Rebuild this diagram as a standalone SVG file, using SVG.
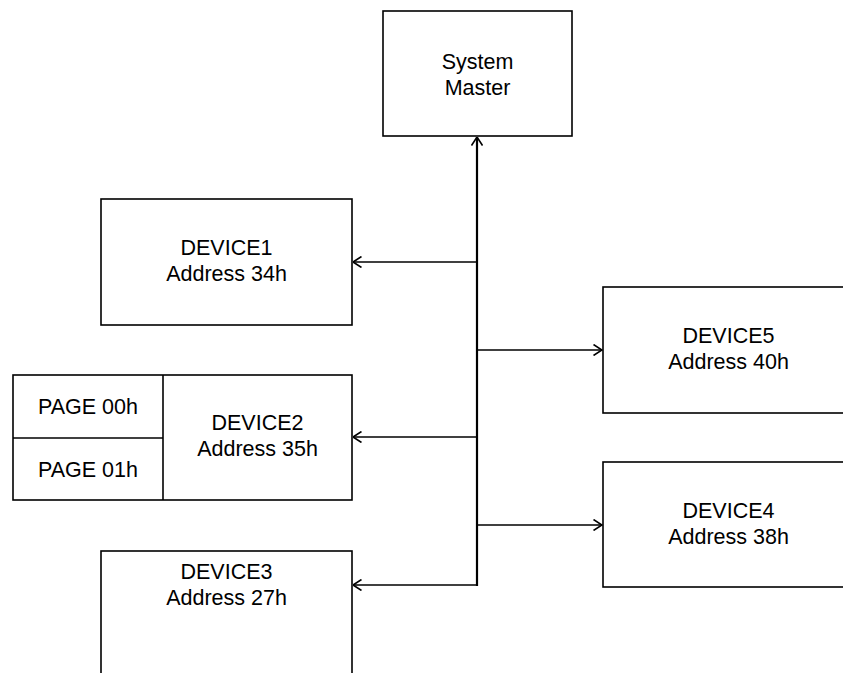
<svg xmlns="http://www.w3.org/2000/svg" width="843" height="673" viewBox="0 0 843 673">
<defs>
<style>
.box{fill:#fff;stroke:#000;stroke-width:1.6}
.t{font-family:"Liberation Sans",Arial,sans-serif;font-size:21.5px;fill:#000;text-anchor:middle}
.ln{fill:none;stroke:#000;stroke-width:1.6}
.trunk{fill:none;stroke:#000;stroke-width:2.2}
</style>
<marker id="arr" viewBox="0 0 10 12" refX="9.5" refY="6" markerWidth="10" markerHeight="12" markerUnits="userSpaceOnUse" orient="auto">
<path d="M1,0.5 L9.5,6 L1,11.5" fill="none" stroke="#000" stroke-width="1.6"/>
</marker>
</defs>
<rect width="843" height="673" fill="#fff"/>
<g id="connectors">
<line class="trunk" x1="477" y1="586" x2="477" y2="137" marker-end="url(#arr)"/>
<line class="ln" x1="477" y1="262" x2="353" y2="262" marker-end="url(#arr)"/>
<line class="ln" x1="477" y1="437" x2="353" y2="437" marker-end="url(#arr)"/>
<line class="ln" x1="478" y1="585" x2="353" y2="585" marker-end="url(#arr)"/>
<line class="ln" x1="477" y1="350" x2="602" y2="350" marker-end="url(#arr)"/>
<line class="ln" x1="477" y1="525" x2="602" y2="525" marker-end="url(#arr)"/>
</g>
<g id="master">
<rect class="box" x="383" y="11" width="189" height="125"/>
<text class="t" x="477.5" y="69">System</text>
<text class="t" x="477.5" y="95">Master</text>
</g>
<g id="device1">
<rect class="box" x="101" y="199" width="251" height="126"/>
<text class="t" x="226.5" y="255">DEVICE1</text>
<text class="t" x="226.5" y="281">Address 34h</text>
</g>
<g id="device2">
<rect class="box" x="13" y="375" width="339" height="125"/>
<line class="ln" x1="163" y1="375" x2="163" y2="500"/>
<line class="ln" x1="13" y1="438" x2="163" y2="438"/>
<text class="t" x="88" y="414">PAGE 00h</text>
<text class="t" x="88" y="477">PAGE 01h</text>
<text class="t" x="257.5" y="430">DEVICE2</text>
<text class="t" x="257.5" y="456">Address 35h</text>
</g>
<g id="device3">
<rect class="box" x="101" y="551" width="251" height="126"/>
<text class="t" x="226.5" y="579">DEVICE3</text>
<text class="t" x="226.5" y="605">Address 27h</text>
</g>
<g id="device5">
<rect class="box" x="603" y="287" width="251" height="126"/>
<text class="t" x="728.5" y="343">DEVICE5</text>
<text class="t" x="728.5" y="369">Address 40h</text>
</g>
<g id="device4">
<rect class="box" x="603" y="462" width="251" height="125"/>
<text class="t" x="728.5" y="518">DEVICE4</text>
<text class="t" x="728.5" y="544">Address 38h</text>
</g>
</svg>
